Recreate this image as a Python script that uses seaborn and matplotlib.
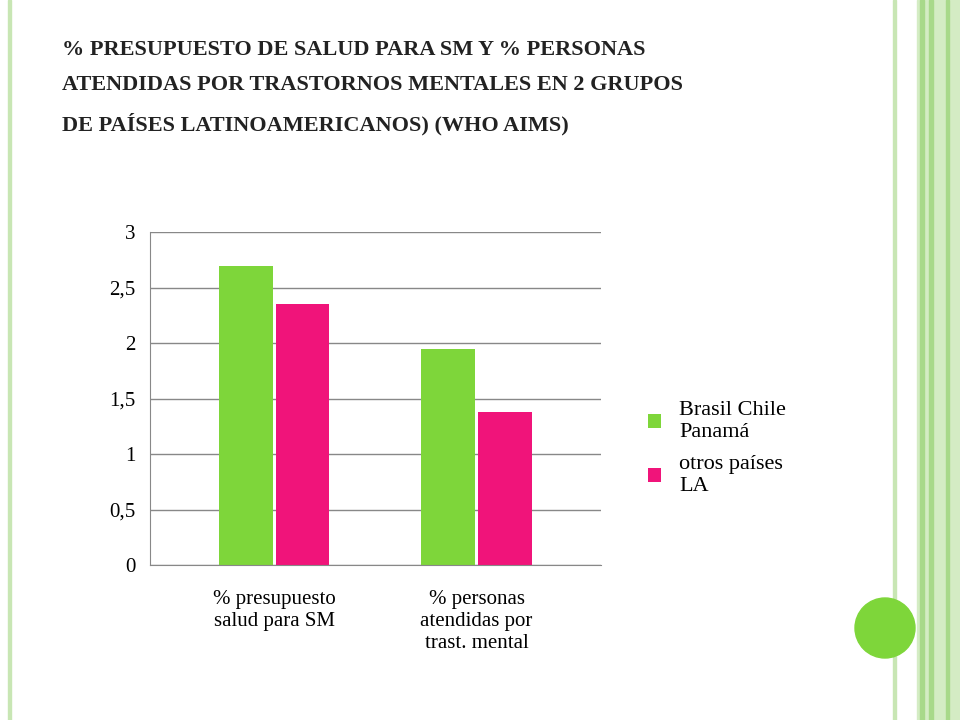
import matplotlib
matplotlib.use("Agg")
import matplotlib.pyplot as plt
import seaborn as sns
import pandas as pd
from matplotlib.patches import Ellipse, Rectangle

categories = ["% presupuesto\nsalud para SM", "% personas\natendidas por\ntrast. mental"]
series = ["Brasil Chile\nPanamá", "otros países\nLA"]
brasil = [2.7, 1.95]
otros = [2.35, 1.38]
yticks = [0, 0.5, 1, 1.5, 2, 2.5, 3]
yticklabels = ["0", "0,5", "1", "1,5", "2", "2,5", "3"]
colors = ["#7ed63a", "#f0147a"]

df = pd.DataFrame({
    "cat": categories * 2,
    "serie": [series[0]] * 2 + [series[1]] * 2,
    "val": brasil + otros,
})

plt.rcParams["font.family"] = "Liberation Serif"
fig = plt.figure(figsize=(9.6, 7.2), dpi=100)
fig.patch.set_facecolor("white")

# slide decorations
fig.add_artist(Rectangle((0.008, 0), 0.003, 1, transform=fig.transFigure, color="#c8e6b4"))
for x0, w, c in [(0.955, 0.045, "#d4ecc4"), (0.958, 0.004, "#a8d98a"), (0.968, 0.004, "#a8d98a"), (0.985, 0.004, "#a8d98a")]:
    fig.add_artist(Rectangle((x0, 0), w, 1, transform=fig.transFigure, color=c))
fig.add_artist(Rectangle((0.93, 0), 0.003, 1, transform=fig.transFigure, color="#c8e6b4"))
fig.add_artist(Ellipse((885 / 960, 1 - 628 / 720), 60 / 960, 60 / 720, transform=fig.transFigure, color="#7ed63a"))

fig.text(62 / 960, 1 - 40 / 720, "% PRESUPUESTO DE SALUD PARA SM Y % PERSONAS\nATENDIDAS POR TRASTORNOS MENTALES EN 2 GRUPOS\nDE PAÍSES LATINOAMERICANOS) (WHO AIMS)",
         ha="left", va="top", fontsize=16, fontweight="bold", linespacing=2.0, color="#222222")

ax = fig.add_axes([0.156, 0.215, 0.47, 0.4625])
sns.barplot(data=df, x="cat", y="val", hue="serie", palette=colors, width=0.56,
            saturation=1, ax=ax, legend=True)
for p in ax.patches:
    w = p.get_width()
    if w > 0:
        p.set_x(p.get_x() + w * 0.025)
        p.set_width(w * 0.95)
ax.set_xlim(-0.614, 1.614)
ax.set_ylim(0, 3)
ax.set_yticks(yticks)
ax.set_yticklabels(yticklabels, fontsize=15)
ax.tick_params(axis="x", labelsize=15, length=0, pad=18)
ax.tick_params(axis="y", length=0, pad=10)
ax.set_xlabel("")
ax.set_ylabel("")
ax.grid(axis="y", color="#888888", linewidth=1)
ax.set_axisbelow(True)
for s in ["top", "right"]:
    ax.spines[s].set_visible(False)
ax.spines["left"].set_color("#888888")
ax.spines["bottom"].set_color("#888888")
ax.legend(loc="center left", bbox_to_anchor=(1.06, 0.35), frameon=False,
          fontsize=16, handlelength=0.6, handleheight=0.6, labelspacing=0.6)
fig.savefig("out.png", dpi=100)
